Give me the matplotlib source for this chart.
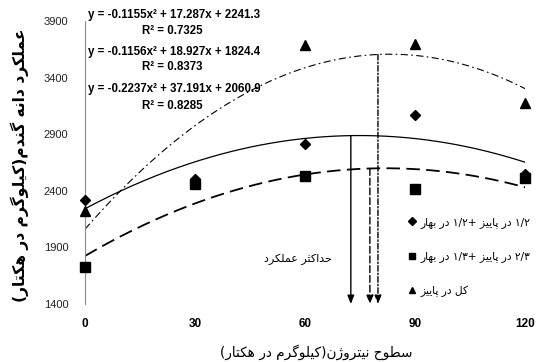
import numpy as np
import matplotlib
matplotlib.use("Agg")
import matplotlib.pyplot as plt
from matplotlib.lines import Line2D

# ---------------- data ----------------
nitrogen = [0, 30, 60, 90, 120]
yield_half_half = [2320, 2500, 2810, 3070, 2550]      # diamond
yield_two_third = [1730, 2460, 2530, 2420, 2510]      # square
yield_all_autumn = [2220, 2480, 3690, 3700, 3180]     # triangle

fit_half_half = [-0.1155, 17.287, 2241.3]
fit_two_third = [-0.1156, 18.927, 1824.4]
fit_all_autumn = [-0.2237, 37.191, 2060.9]
r2_values = ["0.7325", "0.8373", "0.8285"]
eq_texts = ["y = -0.1155x\u00b2 + 17.287x + 2241.3",
            "y = -0.1156x\u00b2 + 18.927x + 1824.4",
            "y = -0.2237x\u00b2 + 37.191x + 2060.9"]

max_yield_x = [72.5, 77.7, 79.9]   # hand drawn arrows in the original

x_ticks = [0, 30, 60, 90, 120]
y_ticks = [1400, 1900, 2400, 2900, 3400, 3900]

labels = ["\u06f1/\u06f2 در پاییز +\u06f1/\u06f2 در بهار",
          "\u06f2/\u06f3 در پاییز +\u06f1/\u06f3 در بهار",
          "کل در پاییز"]
x_label = "سطوح نیتروژن(کیلوگرم در هکتار)"
y_label = "عملکرد دانه گندم(کیلوگرم در هکتار)"
max_label = "حداکثر عملکرد"

# ---------------- simple Persian shaping ----------------
FORMS = {
    '\u0627': ('\uFE8D', '\uFE8E', None, None),
    '\u0628': ('\uFE8F', '\uFE90', '\uFE91', '\uFE92'),
    '\u062A': ('\uFE95', '\uFE96', '\uFE97', '\uFE98'),
    '\u062B': ('\uFE99', '\uFE9A', '\uFE9B', '\uFE9C'),
    '\u062D': ('\uFEA1', '\uFEA2', '\uFEA3', '\uFEA4'),
    '\u062F': ('\uFEA9', '\uFEAA', None, None),
    '\u0631': ('\uFEAD', '\uFEAE', None, None),
    '\u0632': ('\uFEAF', '\uFEB0', None, None),
    '\u0633': ('\uFEB1', '\uFEB2', '\uFEB3', '\uFEB4'),
    '\u0637': ('\uFEC1', '\uFEC2', '\uFEC3', '\uFEC4'),
    '\u0639': ('\uFEC9', '\uFECA', '\uFECB', '\uFECC'),
    '\u0644': ('\uFEDD', '\uFEDE', '\uFEDF', '\uFEE0'),
    '\u0645': ('\uFEE1', '\uFEE2', '\uFEE3', '\uFEE4'),
    '\u0646': ('\uFEE5', '\uFEE6', '\uFEE7', '\uFEE8'),
    '\u0647': ('\uFEE9', '\uFEEA', '\uFEEB', '\uFEEC'),
    '\u0648': ('\uFEED', '\uFEEE', None, None),
    '\u067E': ('\uFB56', '\uFB57', '\uFB58', '\uFB59'),
    '\u0698': ('\uFB8A', '\uFB8B', None, None),
    '\u06A9': ('\uFB8E', '\uFB8F', '\uFB90', '\uFB91'),
    '\u06AF': ('\uFB92', '\uFB93', '\uFB94', '\uFB95'),
    '\u06CC': ('\uFBFC', '\uFBFD', '\uFBFE', '\uFBFF'),
}
DIGITS = set('0123456789\u06f0\u06f1\u06f2\u06f3\u06f4\u06f5\u06f6\u06f7\u06f8\u06f9')
MIRROR = {'(': ')', ')': '('}


def shape(text):
    out = []
    for i, c in enumerate(text):
        if c not in FORMS:
            out.append(c)
            continue
        prev = text[i - 1] if i > 0 else None
        nxt = text[i + 1] if i + 1 < len(text) else None
        jp = prev in FORMS and FORMS[prev][2] is not None
        jn = nxt in FORMS and FORMS[c][2] is not None
        iso, fin, ini, med = FORMS[c]
        if jp and jn:
            out.append(med)
        elif jp:
            out.append(fin)
        elif jn:
            out.append(ini)
        else:
            out.append(iso)
    return ''.join(out)


def visual(text):
    s = shape(text)
    runs = []
    i = 0
    while i < len(s):
        c = s[i]
        if c in DIGITS:
            j = i
            while j < len(s) and (s[j] in DIGITS or (s[j] in '/.' and j + 1 < len(s) and s[j + 1] in DIGITS)):
                j += 1
            runs.append((True, s[i:j]))
            i = j
        else:
            j = i
            while j < len(s) and s[j] not in DIGITS:
                j += 1
            runs.append((False, s[i:j]))
            i = j
    res = []
    for isnum, r in reversed(runs):
        if isnum:
            res.append(r)
        else:
            res.append(''.join(MIRROR.get(ch, ch) for ch in reversed(r)))
    return ''.join(res)


# ---------------- figure ----------------
W, H = 537, 362
fig = plt.figure(figsize=(W / 100, H / 100), dpi=100)
ax = fig.add_axes([85 / W, 1 - 304 / H, 440 / W, 283 / H])

xx = np.linspace(0, 120, 300)
ax.plot(xx, np.polyval(fit_half_half, xx), color='black', lw=0.9)
ax.plot(xx, np.polyval(fit_two_third, xx), color='black', lw=1.3,
        linestyle=(0, (7.5, 3.5)))
ax.plot(xx, np.polyval(fit_all_autumn, xx), color='black', lw=0.8,
        linestyle=(0, (6.5, 3, 1.5, 3)))

ax.plot(nitrogen, yield_all_autumn, linestyle='none', marker='^', ms=7.5,
        color='black', clip_on=False, zorder=3)
ax.plot(nitrogen, yield_two_third, linestyle='none', marker='s', ms=6.5,
        color='black', clip_on=False, zorder=4)
ax.plot(nitrogen, yield_half_half, linestyle='none', marker='D', ms=5.5,
        color='black', clip_on=False, zorder=5)

# arrows to the x axis
styles = ['-', (0, (5, 2)), (0, (4, 1.5, 1, 1.5))]
fits = [fit_half_half, fit_two_third, fit_all_autumn]
for xv, fit, st in zip(max_yield_x, fits, styles):
    ax.annotate('', xy=(xv, y_ticks[0]), xytext=(xv, np.polyval(fit, xv)),
                arrowprops=dict(arrowstyle='-|>,head_length=0.5,head_width=0.2',
                                color='black', lw=1.0, linestyle=st,
                                shrinkA=0, shrinkB=0), zorder=2)

ax.set_xlim(0, 120)
ax.set_ylim(1400, 3900)
ax.set_xticks(x_ticks)
ax.set_yticks(y_ticks)
ax.tick_params(length=0)
ax.tick_params(axis='y', pad=12)
ax.tick_params(axis='x', pad=10)
for lab in ax.get_yticklabels():
    lab.set_fontfamily('Liberation Sans')
    lab.set_fontsize(8)
    lab.set_color('#222222')
for lab in ax.get_xticklabels():
    lab.set_fontfamily('Liberation Sans')
    lab.set_fontsize(8.5)
    lab.set_fontweight('bold')
for sp in ['top', 'right', 'bottom']:
    ax.spines[sp].set_visible(False)
ax.spines['left'].set_color('#8c8c8c')
ax.spines['left'].set_linewidth(0.8)
ax.patch.set_alpha(0)

# equations
eq_rows = [(15, 31), (52, 67), (89, 106)]
for (ye, yr), eq, r2 in zip(eq_rows, eq_texts, r2_values):
    fig.text(88 / W, 1 - ye / H, eq, ha='left', va='center', fontsize=8.3,
             fontweight='bold', family='Liberation Sans')
    fig.text(172 / W, 1 - yr / H, 'R\u00b2 = ' + r2, ha='center', va='center',
             fontsize=8.3, fontweight='bold', family='Liberation Sans')

# max yield label
fig.text(298 / W, 1 - 259 / H, visual(max_label), ha='center', va='center',
         fontsize=8, family='DejaVu Sans')

# legend
handles = [Line2D([], [], linestyle='none', marker='D', ms=4, color='black'),
           Line2D([], [], linestyle='none', marker='s', ms=5, color='black'),
           Line2D([], [], linestyle='none', marker='^', ms=5, color='black')]
leg = fig.legend(handles, [visual(l) for l in labels], loc='center left',
                 bbox_to_anchor=(402 / W, 1 - 257 / H), frameon=False,
                 handlelength=0.8, handletextpad=0.4, labelspacing=2.2,
                 prop={'family': 'DejaVu Sans', 'size': 7.7}, borderpad=0)

# axis labels
fig.text(316 / W, 1 - 352 / H, visual(x_label), ha='center', va='center',
         fontsize=9.8, family='DejaVu Sans')
fig.text(20 / W, 1 - 165 / H, visual(y_label), ha='center', va='center',
         rotation=90, fontsize=11.2, fontweight='bold', family='DejaVu Sans')

fig.savefig('out.png', dpi=100)
